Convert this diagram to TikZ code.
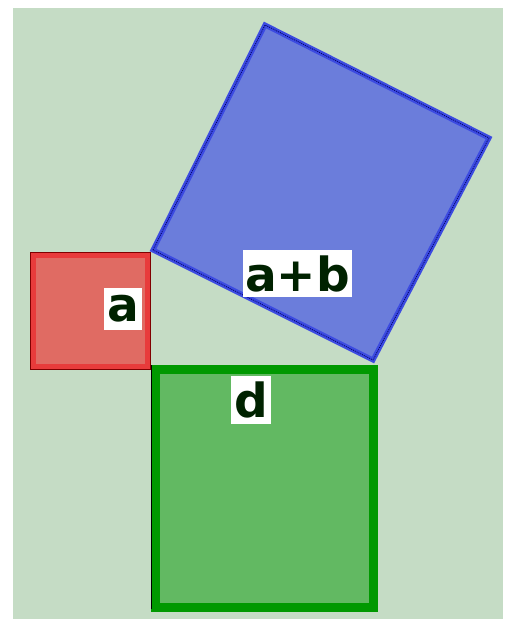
\documentclass[tikz,border=0pt]{standalone}
\usepackage{fontspec}
\setmainfont{Liberation Sans}
\newfontfamily\lblfont{DejaVu Sans}
\usetikzlibrary{positioning}
\definecolor{bgcol}{HTML}{C5DCC5}
\definecolor{redfill}{HTML}{E06B63}
\definecolor{redline}{HTML}{E83B3B}
\definecolor{bluefill}{HTML}{6B7DDB}
\definecolor{blueline}{HTML}{3C4BE1}
\definecolor{greenfill}{HTML}{62B962}
\definecolor{greenline}{HTML}{009900}
\definecolor{lbltext}{HTML}{002200}
\begin{document}
\begin{tikzpicture}[x=1pt,y=-1pt,
sqa/.style={fill=redfill,draw=redline,line width=5.5pt},
sqab/.style={fill=bluefill,draw=blueline,line width=5pt,line join=miter},
sqd/.style={fill=greenfill,draw=greenline,line width=9pt},
edge/.style={draw=black!70,line width=0.8pt},
lbl/.style={fill=white,inner sep=0pt,text=lbltext,font=\lblfont\fontsize{47}{47}\selectfont\bfseries}]
\useasboundingbox (0,0) rectangle (510,619);
\fill[bgcol] (13,8) rectangle (503,619);
\coordinate (bl) at (153,250);
\coordinate (bt) at (265,25);
\coordinate (br) at (489,138);
\coordinate (bb) at (373,360);
\draw[sqab] (bl) -- (bt) -- (br) -- (bb) -- cycle;
\draw[edge,draw=blue!40!black,dashed,dash pattern=on 1pt off 1pt] (bl) -- (bt) -- (br) -- (bb) -- cycle;
\draw[sqa] (33,255) rectangle (148,367);
\draw[draw=red!50!black,line width=0.8pt] (30.5,252.5) rectangle (150.5,369.5);
\draw[sqd] (155,369) rectangle (373,607);
\draw[black,line width=1pt] (151,365) -- (151,609);
\node[lbl,minimum width=38pt,minimum height=42pt] (la) at (123,309) {a};
\node[lbl,minimum width=109pt,minimum height=47pt] (lab) at (297.5,273.5) {a+b};
\node[lbl,minimum width=40pt,minimum height=48pt] (ld) at (251,400) {d};
\end{tikzpicture}
\end{document}
